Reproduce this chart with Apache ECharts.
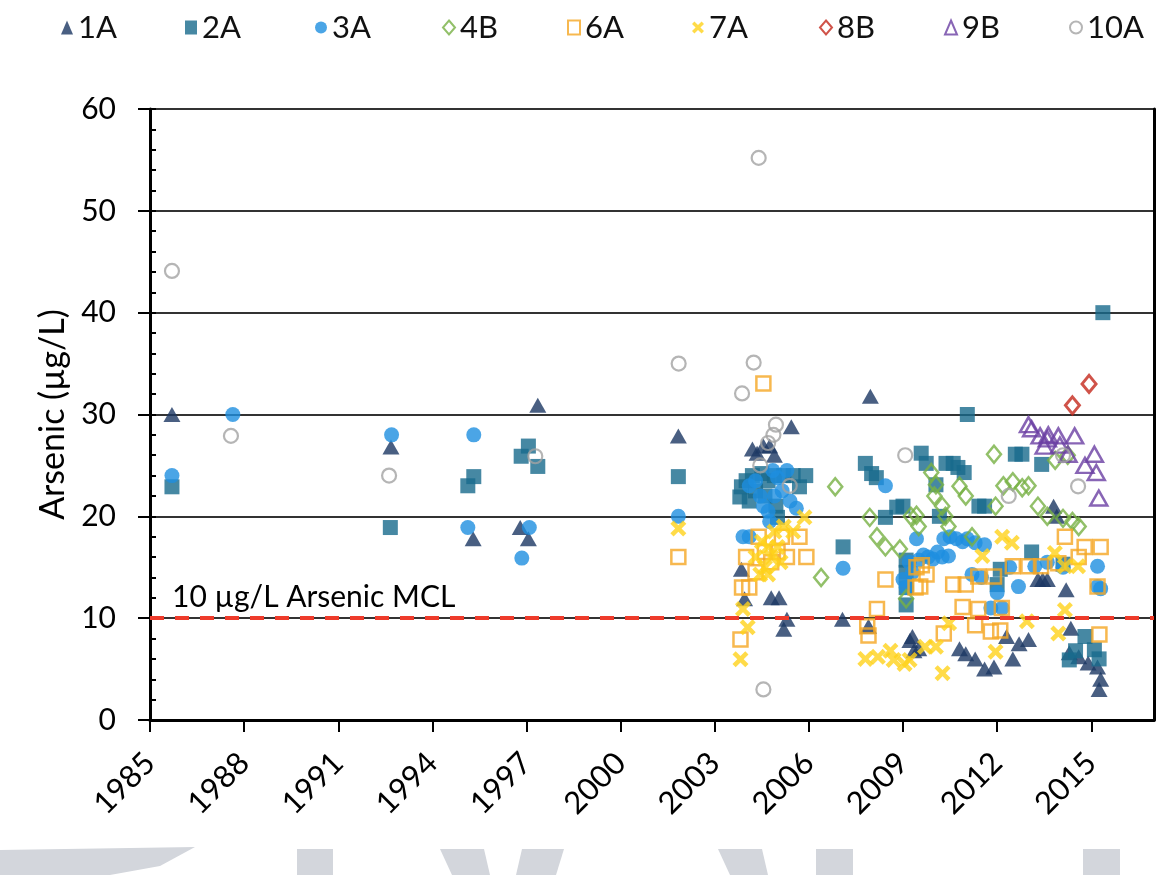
<!DOCTYPE html>
<html><head><meta charset="utf-8">
<script src="https://cdn.jsdelivr.net/npm/echarts@6/dist/echarts.min.js"></script>
<style>html,body{margin:0;padding:0;background:#fff}#c{width:1163px;height:875px}</style>
</head><body><div id="c"></div>
<script>
var seriesNames = ['1A','2A','3A','4B','6A','7A','8B','9B','10A'];
var xTicks = {min:1985, max:2017, interval:3};
var yTicks = {min:0, max:60, interval:10};
var mclValue = 10;
var mclLabel = '10 µg/L Arsenic MCL';

var d1A = [[1985.7,30],[1992.68,26.8],[1995.3,17.8],[1996.8,18.9],[1997.06,17.8],[1997.36,30.9],[2001.84,27.9],
 [2003.85,14.8],[2003.95,11.9],[2004.2,26.6],[2004.35,26.2],[2004.55,26.9],[2004.75,26.9],[2004.9,26.0],[2005.44,28.8],
 [2004.8,12.0],[2005.05,12.0],[2005.3,9.9],[2005.2,8.9],[2007.07,9.9],[2007.96,31.8],[2007.9,9.2],
 [2009.22,7.8],[2009.35,6.8],[2009.3,8.2],[2009.5,7.0],[2010.8,7.0],[2011.0,6.5],[2011.3,6.0],[2011.6,5.0],[2011.9,5.2],
 [2012.3,8.2],[2012.7,7.5],[2013.0,7.9],[2012.5,6.0],[2013.3,13.8],[2013.45,13.8],[2013.6,13.8],[2013.9,20.0],[2013.8,21.0],
 [2014.2,12.8],[2014.35,9.0],[2014.3,6.6],[2014.6,6.2],[2014.9,5.6],[2015.2,5.2],[2015.3,4.0],[2015.25,3.0]];
var d2A = [[1985.7,22.9],[1992.66,18.9],[1995.13,23.0],[1995.32,23.9],[1996.83,25.9],[1997.06,26.9],[1997.36,24.9],[2001.84,23.9],
 [2003.8,21.9],[2003.85,22.9],[2004.0,23.5],[2004.1,21.5],[2004.2,24.0],[2004.5,24.2],[2004.7,23.5],[2004.9,24.0],[2005.2,24.0],
 [2005.5,24.0],[2005.9,24.0],[2005.7,22.9],[2004.95,21.0],[2005.0,19.9],[2004.3,22.5],[2004.6,22.0],
 [2007.09,17.0],[2007.8,25.2],[2008.0,24.2],[2008.15,23.8],[2008.44,19.9],[2008.8,20.9],[2009.0,21.0],[2009.1,15.7],[2009.1,14.5],[2009.1,13.0],[2009.1,11.3],
 [2009.58,26.2],[2009.74,25.2],[2010.05,23.1],[2010.16,20.0],[2010.37,25.2],[2010.6,25.2],[2010.75,24.8],[2010.95,24.3],[2011.05,30.0],
 [2011.42,21.0],[2011.6,21.0],[2012.0,13.3],[2012.1,14.8],[2012.58,26.1],[2012.79,26.1],[2013.42,25.1],[2013.1,16.5],[2014.1,15.3],
 [2014.3,5.9],[2014.5,6.8],[2014.8,8.2],[2015.1,6.9],[2015.25,6.0],[2015.37,40.0]];
var d3A = [[1985.7,24.0],[1987.64,30.0],[1992.7,28.0],[1995.32,28.0],[1995.13,18.9],[1997.09,18.9],[1996.85,15.9],[2001.84,20.0],
 [2003.9,18.0],[2004.1,18.0],[2004.1,23.0],[2004.3,23.5],[2004.45,22.0],[2004.55,21.0],[2004.7,20.5],[2004.75,19.5],[2004.85,24.5],
 [2005.0,23.8],[2005.15,22.5],[2005.4,21.5],[2005.6,20.8],[2004.9,22.0],[2005.3,24.5],
 [2007.09,14.9],[2008.44,23.0],[2009.0,13.8],[2009.1,13.0],[2009.43,17.8],[2009.2,15.5],[2009.3,14.5],[2009.5,15.7],[2009.8,16.0],
 [2009.65,16.2],[2009.95,15.8],[2010.25,16.0],[2010.45,16.1],[2010.3,17.8],[2011.05,17.8],[2011.3,17.4],[2011.6,17.2],
 [2010.1,16.5],[2010.5,18.0],[2010.7,17.8],[2010.9,17.5],[2011.2,14.3],[2011.5,14.0],[2011.8,11.0],[2012.0,12.5],[2012.16,11.0],
 [2012.68,13.1],[2012.4,15.0],[2013.2,15.1],[2013.6,15.5],[2014.1,15.0],[2015.2,15.1],[2015.2,13.1],[2015.3,12.9]];
var d4B = [[2006.39,14.0],[2006.84,22.9],[2007.94,19.9],[2008.17,18.0],[2008.44,17.0],[2008.9,16.8],[2009.1,11.9],[2009.43,20.1],
 [2009.25,20.0],[2009.5,19.0],[2009.9,24.3],[2010.05,23.1],[2010.0,22.0],[2010.25,21.0],[2010.35,20.0],[2010.45,19.0],
 [2010.8,22.95],[2011.0,22.0],[2011.2,18.0],[2011.9,26.1],[2011.95,21.0],[2012.2,23.0],[2012.5,23.4],[2012.8,22.8],[2013.0,23.0],
 [2013.3,21.0],[2013.6,20.0],[2014.1,19.8],[2014.4,19.5],[2014.6,19.0],[2013.85,25.5],[2014.25,26.0]];
var d6A = [[2001.84,16.0],[2003.82,7.9],[2003.87,13.0],[2004.1,13.0],[2004.0,16.0],[2004.55,33.05],[2004.4,18.0],[2004.6,16.5],
 [2004.8,15.5],[2005.0,16.5],[2005.14,18.0],[2005.3,16.0],[2005.7,18.0],[2005.92,16.0],[2004.3,14.5],
 [2007.86,9.2],[2007.9,8.3],[2008.17,10.9],[2008.44,13.8],[2009.43,15.0],[2009.4,13.0],[2009.6,15.2],[2009.75,14.3],[2009.55,13.1],
 [2010.6,13.3],[2011.0,13.3],[2010.9,11.1],[2011.4,10.9],[2011.3,9.3],[2011.8,8.7],[2012.1,8.8],[2010.3,8.5],[2012.15,11.0],
 [2011.4,14.1],[2011.9,14.1],[2012.5,15.1],[2013.0,15.1],[2013.4,15.1],[2013.95,15.4],[2014.16,18.0],[2014.79,17.0],[2015.3,17.0],
 [2015.2,13.1],[2015.26,8.4],[2014.6,16.0]];
var d7A = [[2001.84,18.8],[2003.82,5.96],[2003.9,10.9],[2004.05,9.1],[2004.3,16.0],[2004.5,17.5],[2004.6,15.0],[2004.7,17.0],
 [2004.8,16.0],[2004.9,18.5],[2005.0,17.0],[2005.1,15.5],[2005.2,19.0],[2005.86,19.9],[2004.45,14.3],[2004.7,14.3],[2005.5,18.5],
 [2007.8,6.0],[2008.2,6.2],[2008.6,6.8],[2008.7,5.9],[2009.05,5.5],[2009.21,5.9],[2009.7,7.2],[2010.05,7.2],[2010.47,9.5],[2010.26,4.6],
 [2011.95,6.7],[2012.16,18.0],[2012.47,17.4],[2011.53,16.1],[2013.84,16.4],[2014.16,15.1],[2014.58,15.1],[2014.16,10.8],
 [2013.95,8.5],[2012.95,9.7]];
var d8B = [[2014.4,30.9],[2014.93,33.0]];
var d9B = [[2013.0,29.0],[2013.1,28.6],[2013.37,27.9],[2013.6,27.6],[2013.63,28.0],[2013.95,27.9],[2014.47,27.9],[2013.5,26.9],
 [2014.26,26.1],[2015.1,26.1],[2014.8,25.0],[2015.16,24.3],[2015.24,21.8],[2014.0,27.0]];
var d10A = [[1985.7,44.1],[1987.58,27.9],[1992.62,24.0],[1997.28,25.9],[2001.85,35.0],[2003.87,32.07],[2004.24,35.1],[2004.4,55.2],
 [2004.55,3.0],[2004.95,29.0],[2004.87,28.0],[2004.7,27.2],[2004.45,25.0],[2005.39,23.0],[2009.07,26.0],[2012.37,22.0],
 [2014.58,22.95],[2014.1,26.0]];

var FONT = 'Lato';
var legendLeft = [56, 180, 310, 437, 562, 687, 814, 939, 1064];
var xPath = 'path://M2,0 L5,3 L8,0 L10,2 L7,5 L10,8 L8,10 L5,7 L2,10 L0,8 L3,5 L0,2 Z';
var styles = {
 '1A': {symbol:'triangle', size:[17,15], item:{color:'#1c3763'}},
 '2A': {symbol:'rect', size:15, item:{color:'#186a8c'}},
 '3A': {symbol:'circle', size:15, item:{color:'#1e8ee0'}},
 '4B': {symbol:'diamond', size:[14,17], item:{color:'rgba(255,255,255,0)', borderColor:'#77b043', borderWidth:2.5}},
 '6A': {symbol:'rect', size:14, item:{color:'rgba(255,255,255,0)', borderColor:'#f5a623', borderWidth:2.5}},
 '7A': {symbol:xPath, size:16, item:{color:'#ffd21a'}},
 '8B': {symbol:'diamond', size:[14,17], item:{color:'rgba(255,255,255,0)', borderColor:'#c4281c', borderWidth:3}},
 '9B': {symbol:'triangle', size:[17,15], item:{color:'rgba(255,255,255,0)', borderColor:'#6a3fa3', borderWidth:2.5}},
 '10A': {symbol:'circle', size:14, item:{color:'rgba(255,255,255,0)', borderColor:'#a3a3a3', borderWidth:2.2}}
};
var dataMap = {'1A':d1A,'2A':d2A,'3A':d3A,'4B':d4B,'6A':d6A,'7A':d7A,'8B':d8B,'9B':d9B,'10A':d10A};

var series = seriesNames.map(function(n){
  var s = styles[n];
  return {name:n, type:'scatter', data:dataMap[n], symbol:s.symbol, symbolSize:s.size, itemStyle:s.item, xAxisIndex:0, yAxisIndex:0};
});
series[0].markLine = {
  silent:true, symbol:'none', animation:false,
  lineStyle:{color:'#ee3b2b', type:[14,11], width:4},
  label:{show:true, position:'insideStartTop', formatter:mclLabel, color:'#000', fontSize:30, fontFamily:FONT, distance:[22,6]},
  data:[{yAxis:mclValue}]
};

var legends = seriesNames.map(function(n, i){
  return {left:legendLeft[i], top:7, itemWidth:12, itemHeight:14, data:[n],
    textStyle:{fontSize:31, fontFamily:FONT, color:'#111'}};
});

var chart = echarts.init(document.getElementById('c'), null, {renderer:'canvas'});
chart.setOption({
  animation:false,
  backgroundColor:'#fff',
  legend:legends,
  grid:{left:150, right:9, top:109, bottom:155},
  xAxis:{type:'value', min:xTicks.min, max:xTicks.max, interval:xTicks.interval,
    axisLine:{lineStyle:{color:'#000', width:3}},
    axisTick:{show:true, inside:false, length:12, lineStyle:{color:'#000', width:2}},
    axisLabel:{rotate:45, fontSize:31, fontFamily:FONT, color:'#000', margin:38, showMaxLabel:false,
      formatter:function(v){ return ((v - xTicks.min) % xTicks.interval === 0) ? String(v) : ''; }},
    splitLine:{show:false}},
  yAxis:[
    {type:'value', min:yTicks.min, max:yTicks.max, interval:yTicks.interval, position:'left',
     name:'Arsenic (µg/L)', nameLocation:'middle', nameGap:80, nameTextStyle:{fontSize:34, fontFamily:FONT, color:'#000'},
     axisLine:{show:true, lineStyle:{color:'#000', width:3}},
     axisTick:{show:true, inside:false, length:12, lineStyle:{color:'#000', width:2}},
     axisLabel:{fontSize:30, fontFamily:FONT, color:'#000', margin:34},
     splitLine:{show:true, lineStyle:{color:'#333', width:2}}},
    {type:'value', min:yTicks.min, max:yTicks.max, interval:2, position:'left',
     axisLine:{show:false}, axisLabel:{show:false}, splitLine:{show:false},
     axisTick:{show:true, inside:true, length:6, lineStyle:{color:'#000', width:2}}},
    {type:'value', min:yTicks.min, max:yTicks.max, interval:yTicks.interval, position:'right',
     axisLine:{show:true, lineStyle:{color:'#000', width:3}}, axisLabel:{show:false}, axisTick:{show:false}, splitLine:{show:false}}
  ],
  graphic:[
    {type:'polygon', shape:{points:[[0,850],[195,847],[160,866],[110,875],[0,875]]}, style:{fill:'#d3d6dc'}},
    {type:'rect', shape:{x:297,y:849,width:36,height:26}, style:{fill:'#d3d6dc'}},
    {type:'polygon', shape:{points:[[440,849],[484,849],[490,875],[452,875]]}, style:{fill:'#d3d6dc'}},
    {type:'polygon', shape:{points:[[522,849],[564,849],[556,875],[516,875]]}, style:{fill:'#d3d6dc'}},
    {type:'polygon', shape:{points:[[718,849],[762,849],[768,875],[730,875]]}, style:{fill:'#d3d6dc'}},
    {type:'rect', shape:{x:816,y:849,width:37,height:26}, style:{fill:'#d3d6dc'}},
    {type:'rect', shape:{x:1083,y:849,width:37,height:26}, style:{fill:'#d3d6dc'}}
  ],
  series:series
});
</script></body></html>
